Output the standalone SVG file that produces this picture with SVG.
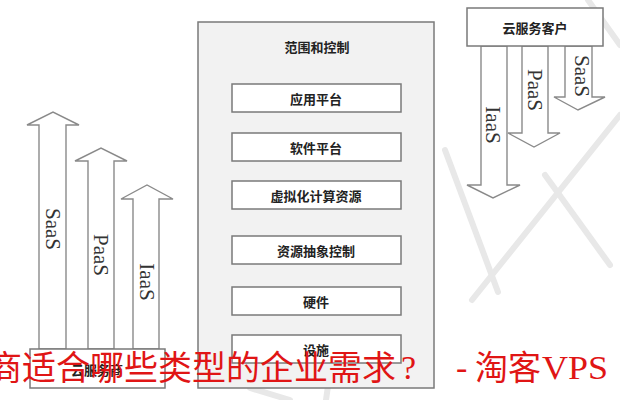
<svg xmlns="http://www.w3.org/2000/svg" width="620" height="400" viewBox="0 0 620 400">
<style>
.box{fill:#ffffff;stroke:#7a7a7a;stroke-width:1.5}
.outer{fill:#f2f2f2;stroke:#7a7a7a;stroke-width:1.5}
.arrow{fill:#ffffff;stroke:#8a8a8a;stroke-width:1.4}
.lbl{font-family:"Noto Sans CJK SC",sans-serif;font-weight:bold;font-size:13px;fill:#222;text-anchor:middle;dominant-baseline:central}
.vt{font-family:"Liberation Serif",serif;font-size:21px;fill:#333;text-anchor:middle;dominant-baseline:central}
.red{font-family:"Liberation Serif","Noto Sans CJK SC",serif;font-size:34px;fill:#e01515}
.wm{stroke:#e8e8e8;stroke-width:6;fill:none;stroke-linecap:round}
</style>
<rect width="620" height="400" fill="#ffffff"/>
<g id="watermark">
<path class="wm" d="M588,0 L620,45"/>
<path class="wm" d="M620,115 L472,300"/>
<path class="wm" d="M445,150 L498,292"/>
<path class="wm" d="M545,175 L610,265"/>
<path class="wm" d="M250,388 L290,400"/>
<path class="wm" d="M330,372 L326,400"/>
</g>
<g id="scope">
<rect class="outer" x="198" y="22" width="236" height="366"/>
<text class="lbl" x="317" y="46">范围和控制</text>
</g>
<g id="app"><rect class="box" x="232" y="84" width="169" height="28"/><text class="lbl" x="316" y="98">应用平台</text></g>
<g id="software"><rect class="box" x="232" y="133" width="169" height="28"/><text class="lbl" x="316" y="147">软件平台</text></g>
<g id="virtual"><rect class="box" x="232" y="181" width="169" height="28"/><text class="lbl" x="316" y="195">虚拟化计算资源</text></g>
<g id="abstract"><rect class="box" x="232" y="236" width="169" height="28"/><text class="lbl" x="316" y="250">资源抽象控制</text></g>
<g id="hardware"><rect class="box" x="232" y="287" width="169" height="28"/><text class="lbl" x="316" y="301">硬件</text></g>
<g id="facility"><rect class="box" x="232" y="335" width="169" height="28"/><text class="lbl" x="316" y="349">设施</text></g>
<g id="connectors">
<polygon class="arrow" points="39,349 39,125 27,125 53,112 79,125 66,125 66,349"/>
<polygon class="arrow" points="88,349 88,161 75,161 101,148 127,161 114,161 114,349"/>
<polygon class="arrow" points="133,349 133,199 121,199 147,185 173,199 159,199 159,349"/>
<polygon class="arrow" points="481,46 481,185 467,185 493,198 520,185 507,185 507,46"/>
<polygon class="arrow" points="522,46 522,133 508,133 534,147 560,133 548,133 548,46"/>
<polygon class="arrow" points="565,46 565,97 554,97 578,110 605,97 592,97 592,46"/>
<text class="vt" transform="translate(53,229) rotate(90)">SaaS</text>
<text class="vt" transform="translate(101,255) rotate(90)">PaaS</text>
<text class="vt" transform="translate(147,282) rotate(90)">IaaS</text>
<text class="vt" transform="translate(493,125) rotate(90)">IaaS</text>
<text class="vt" transform="translate(535,90) rotate(90)">PaaS</text>
<text class="vt" transform="translate(582,76) rotate(90)">SaaS</text>
</g>
<g id="provider"><rect class="box" x="30" y="349" width="135" height="39"/><text class="lbl" x="97" y="369">云服务商</text></g>
<g id="customer"><rect class="box" x="467" y="8" width="136" height="38"/><text class="lbl" x="535" y="27">云服务客户</text></g>
<g id="caption">
<text class="red" x="-12" y="380" textLength="408" lengthAdjust="spacingAndGlyphs">商适合哪些类型的企业需求</text>
<text class="red" x="401" y="379">?</text>
<text class="red" x="456" y="379">-</text>
<text class="red" x="475" y="380" textLength="66" lengthAdjust="spacingAndGlyphs">淘客</text>
<text class="red" x="542" y="379" textLength="66" lengthAdjust="spacingAndGlyphs">VPS</text>
</g>
</svg>
